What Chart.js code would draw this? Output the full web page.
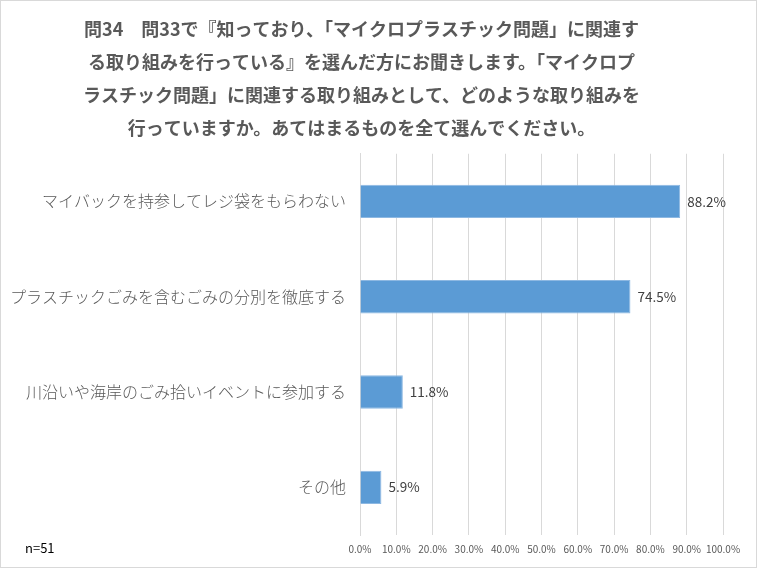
<!DOCTYPE html>
<html>
<head>
<meta charset="utf-8">
<script src="https://cdn.jsdelivr.net/npm/chart.js@4.4.1/dist/chart.umd.min.js"></script>
<style>
  body { margin: 0; background: #fff; }
  #wrap { width: 757px; height: 568px; }
</style>
</head>
<body>
<div id="wrap"><canvas id="qChart" width="757" height="568"></canvas></div>
<script>
var titleLines = [
    '問34　問33で『知っており、「マイクロプラスチック問題」に関連す',
    'る取り組みを行っている』を選んだ方にお聞きします。「マイクロプ',
    'ラスチック問題」に関連する取り組みとして、どのような取り組みを',
    '行っていますか。あてはまるものを全て選んでください。'
];
var categories = [
    'マイバックを持参してレジ袋をもらわない',
    'プラスチックごみを含むごみの分別を徹底する',
    '川沿いや海岸のごみ拾いイベントに参加する',
    'その他'
];
var percents = [88.2, 74.5, 11.8, 5.9];
var sampleNote = 'n=51';

var jpFont = "'Noto Sans CJK JP', 'Noto Sans', sans-serif";

// draws value labels, the n= note and the outer frame
var extras = {
    id: 'extras',
    afterDatasetsDraw: function (chart) {
        var ctx = chart.ctx;
        var meta = chart.getDatasetMeta(0);
        ctx.save();
        ctx.font = '13.5px ' + jpFont;
        ctx.fillStyle = '#404040';
        ctx.textBaseline = 'middle';
        ctx.textAlign = 'left';
        meta.data.forEach(function (bar, i) {
            ctx.fillText(percents[i].toFixed(1) + '%', bar.x + 7, bar.y);
        });
        ctx.font = '13px ' + jpFont;
        ctx.fillStyle = '#000';
        ctx.fillText(sampleNote, 25, 548);
        ctx.strokeStyle = '#d9d9d9';
        ctx.lineWidth = 1;
        ctx.strokeRect(0.5, 0.5, chart.width - 1, chart.height - 1);
        ctx.restore();
    }
};

var ctx = document.getElementById('qChart').getContext('2d');
var chart = new Chart(ctx, {
    type: 'bar',
    data: {
        labels: categories,
        datasets: [{
            data: percents,
            backgroundColor: '#5B9BD5',
            borderColor: '#8DB8E2',
            borderWidth: 1,
            barPercentage: 0.7,
            categoryPercentage: 0.5
        }]
    },
    plugins: [extras],
    options: {
        indexAxis: 'y',
        responsive: false,
        animation: false,
        layout: { padding: { left: 0, right: 34, top: 0, bottom: 5 } },
        plugins: {
            legend: { display: false },
            tooltip: { enabled: false },
            title: {
                display: true,
                text: titleLines,
                color: '#595959',
                font: { family: jpFont, size: 18, weight: 'bold', lineHeight: 1.83 },
                padding: { top: 13, bottom: 9 }
            }
        },
        scales: {
            x: {
                min: 0,
                max: 100,
                ticks: {
                    stepSize: 10,
                    color: '#595959',
                    font: { family: jpFont, size: 10 },
                    padding: 8,
                    maxRotation: 0,
                    minRotation: 0,
                    autoSkip: false,
                    callback: function (v) { return v.toFixed(1) + '%'; }
                },
                grid: { color: '#d9d9d9', drawTicks: false },
                border: { display: false }
            },
            y: {
                afterFit: function (scale) { scale.width = 360; },
                ticks: {
                    color: '#595959',
                    font: { family: jpFont, size: 16, weight: 300 },
                    padding: 14
                },
                grid: { display: false, drawTicks: false },
                border: { color: '#d9d9d9' }
            }
        }
    }
});
</script>
</body>
</html>
